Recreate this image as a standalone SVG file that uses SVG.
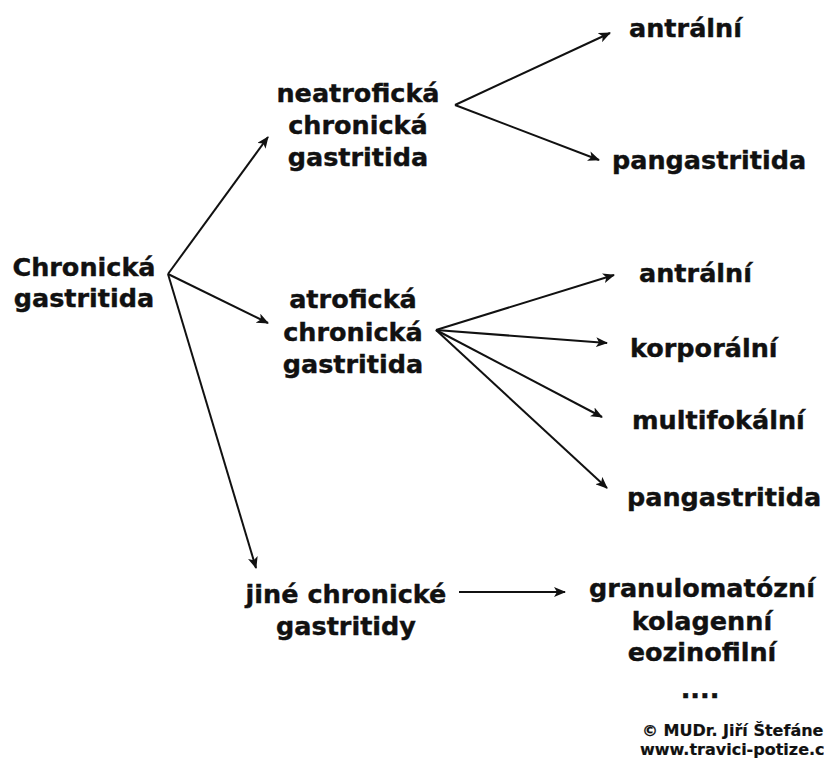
<svg xmlns="http://www.w3.org/2000/svg" width="824" height="760" viewBox="0 0 824 760">
<style>
text{font-family:"DejaVu Sans",Verdana,sans-serif;font-weight:bold;font-size:25.5px;fill:#111;stroke:#111;stroke-width:0.4;text-anchor:middle}
.l{text-anchor:start}
.c{font-size:16px;stroke-width:0.2;text-anchor:start}
.e{stroke:#111;stroke-width:2;fill:none;marker-end:url(#ah)}
</style>
<defs>
<marker id="ah" markerUnits="userSpaceOnUse" markerWidth="12" markerHeight="10" viewBox="0 0 12 10" refX="11" refY="5" orient="auto">
<path d="M0,0 L12,5 L0,10 L3,5 z" fill="#111"/>
</marker>
</defs>
<rect width="824" height="760" fill="#fff"/>
<g id="connectors">
<line class="e" x1="168" y1="274" x2="268" y2="137"/>
<line class="e" x1="168" y1="274" x2="268" y2="323"/>
<line class="e" x1="168" y1="274" x2="256" y2="568"/>
<line class="e" x1="455" y1="105" x2="610" y2="33"/>
<line class="e" x1="455" y1="105" x2="599" y2="160"/>
<line class="e" x1="436" y1="330" x2="614" y2="275"/>
<line class="e" x1="436" y1="330" x2="607" y2="343"/>
<line class="e" x1="436" y1="330" x2="602" y2="417"/>
<line class="e" x1="436" y1="330" x2="607" y2="488"/>
<line class="e" x1="459" y1="592" x2="565" y2="592"/>
</g>
<g id="root"><text x="84" y="276">Chronická</text><text x="84" y="307">gastritida</text></g>
<g id="neatroficka"><text x="358" y="102">neatrofická</text><text x="358" y="134">chronická</text><text x="358" y="166">gastritida</text></g>
<g id="atroficka"><text x="353" y="308">atrofická</text><text x="353" y="341">chronická</text><text x="353" y="373">gastritida</text></g>
<g id="jine"><text x="346" y="603">jiné chronické</text><text x="346" y="635">gastritidy</text></g>
<g id="n-antralni"><text class="l" x="629" y="37">antrální</text></g>
<g id="n-pangastritida"><text class="l" x="612" y="169">pangastritida</text></g>
<g id="a-antralni"><text class="l" x="639" y="282">antrální</text></g>
<g id="a-korporalni"><text class="l" x="630" y="357">korporální</text></g>
<g id="a-multifokalni"><text class="l" x="632" y="429">multifokální</text></g>
<g id="a-pangastritida"><text class="l" x="627" y="506">pangastritida</text></g>
<g id="other"><text x="702" y="597">granulomatózní</text><text x="702" y="630">kolagenní</text><text x="702" y="661">eozinofilní</text><text x="700" y="698">....</text></g>
<g id="credit"><text class="c" x="642" y="736">© MUDr. Jiří Štefánek</text><text class="c" x="640" y="755">www.travici-potize.cz</text></g>
</svg>
